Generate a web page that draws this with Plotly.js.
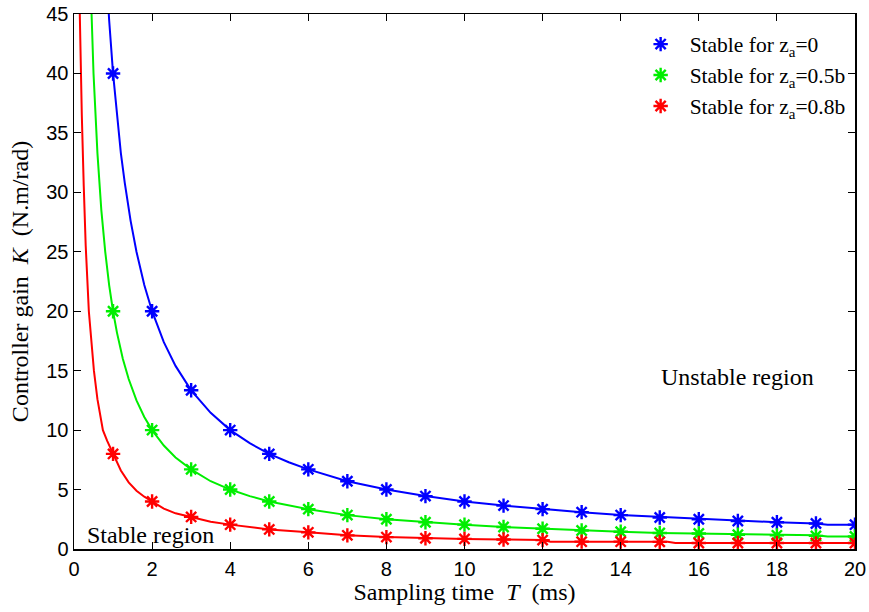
<!DOCTYPE html>
<html><head><meta charset="utf-8">
<script src="https://cdn.plot.ly/plotly-3.0.1.min.js"></script>
<style>body{margin:0;background:#fff}#chart{width:869px;height:612px}</style>
</head><body><div id="chart"></div>
<script>
// Marker samples (T in ms, K in N.m/rad)
const markerT = [1,2,3,4,5,6,7,8,9,10,11,12,13,14,15,16,17,18,19,20];
const markerK_z0   = [40,20,13.35,10,8.0,6.7,5.7,5.0,4.45,4.0,3.65,3.35,3.1,2.85,2.65,2.5,2.35,2.25,2.15,2.05];
const markerK_z05  = [20,10,6.7,5.0,4.0,3.35,2.85,2.5,2.25,2.05,1.85,1.7,1.55,1.45,1.35,1.3,1.2,1.15,1.1,1.05];
const markerK_z08  = [8,4,2.7,2.05,1.65,1.4,1.15,1.0,0.9,0.85,0.8,0.75,0.62,0.62,0.6,0.5,0.5,0.5,0.5,0.5];

// Curve samples
const lineT_z0  = [0.82,0.9,1.0,1.1,1.2,1.3,1.45,1.6,1.8,2.0,2.3,2.6,3.0,3.5,4.0,4.5,5.0,5.5,6.0,7.0,8.0,9.0,10.0,11.0,12.0,13.0,14.0,15.0,15.4,16.0,16.4,17.0,17.5,18.0,19.0,19.3,20.0];
const lineK_z0  = [49,44.5,40,36.4,33.3,30.8,27.6,25,22.2,20,17.4,15.4,13.35,11.45,10,8.9,8.0,7.3,6.7,5.7,5.0,4.45,4.0,3.65,3.35,3.1,2.85,2.7,2.65,2.5,2.45,2.35,2.3,2.25,2.15,2.05,2.05];
const lineT_z05 = [0.4,0.45,0.5,0.6,0.7,0.8,0.9,1.0,1.1,1.25,1.4,1.6,1.8,2.0,2.3,2.6,3.0,3.5,4.0,4.5,5.0,6.0,7.0,8.0,9.0,10.0,11.0,12.0,13.0,14.0,15.0,16.0,17.0,18.0,19.0,19.3,20.0];
const lineK_z05 = [50,44,40,33.3,28.5,25,22.2,20,18.2,16,14.3,12.5,11.1,10,8.7,7.7,6.7,5.7,5.0,4.45,4.0,3.35,2.85,2.5,2.25,2.05,1.85,1.7,1.55,1.45,1.35,1.3,1.25,1.15,1.15,1.05,1.05];
const lineT_z08 = [0.13,0.16,0.2,0.25,0.3,0.38,0.45,0.51,0.6,0.74,0.85,1.0,1.2,1.4,1.6,1.8,2.0,2.3,2.6,3.0,3.5,4.0,4.5,5.0,6.0,7.0,8.0,9.0,10.0,11.0,12.0,12.2,15.2,15.4,20.0];
const lineK_z08 = [48,42,36.5,30.5,25.5,20,17,15,12.6,10,9.1,8,6.6,5.6,4.9,4.4,4.0,3.4,3.0,2.7,2.3,2.05,1.85,1.65,1.4,1.15,1.0,0.9,0.85,0.8,0.75,0.62,0.6,0.5,0.5];

const colors = ['#0000ff','#00ee00','#ff0000'];
const names = ['Stable for z<sub>a</sub>=0','Stable for z<sub>a</sub>=0.5b','Stable for z<sub>a</sub>=0.8b'];
const lineT = [lineT_z0,lineT_z05,lineT_z08];
const lineK = [lineK_z0,lineK_z05,lineK_z08];
const markK = [markerK_z0,markerK_z05,markerK_z08];

const traces = [];
for (let i=0;i<3;i++){
  traces.push({x:markerT,y:markK[i],mode:'markers',name:names[i],
    marker:{symbol:'asterisk-open',size:12,color:colors[i],line:{color:colors[i],width:2.4}},
    showlegend:true,hoverinfo:'x+y'});
}
for (let i=0;i<3;i++){
  traces.push({x:lineT[i],y:lineK[i],mode:'lines',line:{color:colors[i],width:2},showlegend:false,hoverinfo:'skip'});
}

const tickFont = {family:'Liberation Sans, Arial, sans-serif',size:20,color:'#000'};
const serif = 'Liberation Serif, Times New Roman, serif';
const layout = {
  width:869,height:612,
  margin:{l:73.5,r:14,t:14,b:63},
  paper_bgcolor:'#fff',plot_bgcolor:'#fff',
  showlegend:true,
  legend:{x:0.714,y:0.982,xanchor:'left',yanchor:'top',bgcolor:'rgba(255,255,255,0)',itemwidth:48,
    font:{family:serif,size:21.5,color:'#000'},tracegroupgap:0},
  xaxis:{range:[0,20],tickvals:[0,2,4,6,8,10,12,14,16,18,20],ticks:'inside',ticklen:7,tickcolor:'#000',
    showline:true,linecolor:'#000',linewidth:1.5,mirror:'ticks',showgrid:false,zeroline:false,tickfont:tickFont,
    ticklabelstandoff:1,
    title:{text:'Sampling time&nbsp;&nbsp;<i>T</i>&nbsp;&nbsp;(ms)',font:{family:serif,size:24,color:'#000'},standoff:2}},
  yaxis:{range:[0,45],tickvals:[0,5,10,15,20,25,30,35,40,45],ticks:'inside',ticklen:7,tickcolor:'#000',
    showline:true,linecolor:'#000',linewidth:1.5,mirror:'ticks',showgrid:false,zeroline:false,tickfont:tickFont,
    ticklabelstandoff:0,
    title:{text:'Controller gain&nbsp;&nbsp;<i>K</i>&nbsp;&nbsp;(N.m/rad)',font:{family:serif,size:24,color:'#000'},standoff:11}},
  annotations:[
    {x:16.98,y:14.5,xref:'x',yref:'y',text:'Unstable region',showarrow:false,font:{family:serif,size:24,color:'#000'}},
    {x:1.96,y:1.15,xref:'x',yref:'y',text:'Stable region',showarrow:false,font:{family:serif,size:24,color:'#000'}}
  ]
};
Plotly.newPlot('chart',traces,layout,{displayModeBar:false,staticPlot:true});
</script></body></html>
